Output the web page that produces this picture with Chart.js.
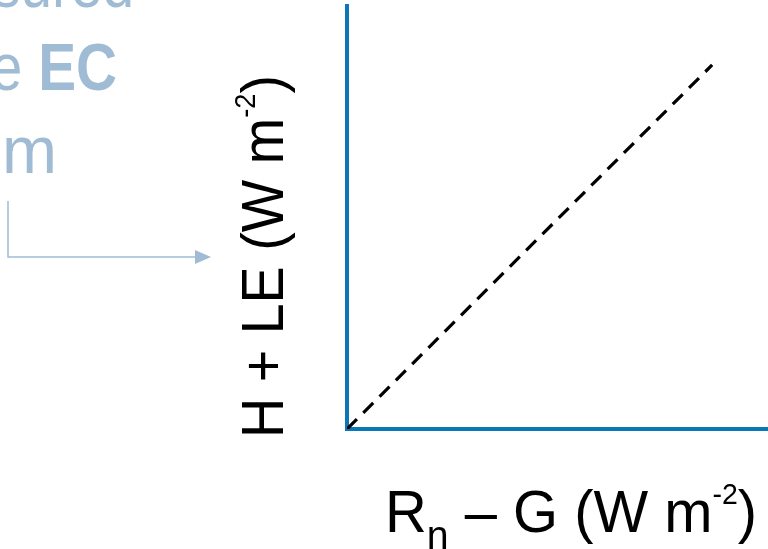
<!DOCTYPE html>
<html>
<head>
<meta charset="utf-8">
<script src="https://cdn.jsdelivr.net/npm/chart.js@4.4.0/dist/chart.umd.min.js"></script>
<style>
  html, body { margin: 0; padding: 0; background: #fff; overflow: hidden; }
  #grafico { display: block; }
</style>
</head>
<body>
<canvas id="grafico" width="768" height="549"></canvas>
<script>
// linea 1:1 (datos)
var puntosX = [0, 100];
var puntosY = [0, 100];
var maxX = 115.3;
var maxY = 116.2;

// textos
var textoLateral = [
  [{ t: "measured", b: false }],
  [{ t: "by the ", b: false }, { t: "EC", b: true }],
  [{ t: "system", b: false }]
];
var etiquetaX = [{ t: "R" }, { t: "n", sub: true }, { t: " \u2013 G (W m" }, { t: "-2", sup: true }, { t: ")" }];
var etiquetaY = [{ t: "H + LE (W m" }, { t: "-2", sup: true }, { t: ")" }];

var azul = "#0a78b8";
var grisAzul = "#a0bcd4";
var fuente = "'Liberation Sans', Arial, sans-serif";

function fontDe(p, base) {
  var size = base;
  if (p.sub) size = 40;
  if (p.sup) size = 29;
  return (p.b ? "bold " : "") + size + "px " + fuente;
}

// dibuja texto con sub/superindices, ajustado a un ancho dado
function dibujarRico(ctx, partes, base, x, y, ancho) {
  var total = 0;
  partes.forEach(function (p) {
    ctx.font = fontDe(p, base);
    total += ctx.measureText(p.t).width;
  });
  var esc = ancho / total;
  ctx.save();
  ctx.translate(x, y);
  ctx.scale(esc, 1);
  ctx.textBaseline = "alphabetic";
  ctx.textAlign = "left";
  var cx = 0;
  partes.forEach(function (p) {
    ctx.font = fontDe(p, base);
    var dy = 0;
    if (p.sub) dy = 17;
    if (p.sup) dy = -28;
    ctx.fillText(p.t, cx, dy);
    cx += ctx.measureText(p.t).width;
  });
  ctx.restore();
}

function dibujarLinea(ctx, partes, base, xDer, y, esc, espaciado) {
  ctx.save();
  ctx.letterSpacing = (espaciado || 0) + "px";
  var total = 0;
  partes.forEach(function (p) {
    ctx.font = fontDe(p, base);
    total += ctx.measureText(p.t).width;
  });
  ctx.translate(xDer, y);
  ctx.scale(esc, 1);
  var cx = -total;
  partes.forEach(function (p) {
    ctx.font = fontDe(p, base);
    ctx.fillText(p.t, cx, 0);
    cx += ctx.measureText(p.t).width;
  });
  ctx.restore();
}

var extras = {
  id: "extras",
  afterDraw: function (chart) {
    var ctx = chart.ctx;
    ctx.save();
    // texto lateral
    ctx.fillStyle = grisAzul;
    ctx.textBaseline = "alphabetic";
    dibujarLinea(ctx, textoLateral[0], 66, 134, 7, 0.86, 0);
    dibujarLinea(ctx, textoLateral[1], 66, 117, 90, 0.86, 0);
    dibujarLinea(ctx, textoLateral[2], 66, 63, 173, 1, 6);

    // flecha
    ctx.strokeStyle = grisAzul;
    ctx.lineWidth = 1.5;
    ctx.beginPath();
    ctx.moveTo(8, 201);
    ctx.lineTo(8, 257);
    ctx.lineTo(197, 257);
    ctx.stroke();
    ctx.fillStyle = grisAzul;
    ctx.beginPath();
    ctx.moveTo(195, 250);
    ctx.lineTo(211, 257);
    ctx.lineTo(195, 264);
    ctx.closePath();
    ctx.fill();

    // etiquetas de ejes
    ctx.fillStyle = "#000";
    dibujarRico(ctx, etiquetaX, 59, 385, 532, 372);
    ctx.save();
    ctx.translate(283, 438);
    ctx.rotate(-Math.PI / 2);
    dibujarRico(ctx, etiquetaY, 59, 0, 0, 363);
    ctx.restore();
    ctx.restore();
  }
};

var datos = puntosX.map(function (x, i) { return { x: x, y: puntosY[i] }; });

var ctx = document.getElementById("grafico").getContext("2d");
var myChart = new Chart(ctx, {
  type: "scatter",
  data: {
    datasets: [{
      data: datos,
      showLine: true,
      borderColor: "#000",
      borderWidth: 3.2,
      borderDash: [14, 9],
      pointRadius: 0,
      fill: false
    }]
  },
  options: {
    responsive: false,
    animation: false,
    devicePixelRatio: 1,
    layout: { padding: { left: 347, top: 6, right: 0, bottom: 120 } },
    plugins: { legend: { display: false }, tooltip: { enabled: false } },
    scales: {
      x: {
        type: "linear", min: 0, max: maxX,
        grid: { display: false, drawTicks: false },
        ticks: { display: false },
        border: { display: true, color: azul, width: 4 }
      },
      y: {
        type: "linear", min: 0, max: maxY,
        grid: { display: false, drawTicks: false },
        ticks: { display: false },
        border: { display: true, color: azul, width: 4 }
      }
    }
  },
  plugins: [extras]
});
</script>
</body>
</html>
